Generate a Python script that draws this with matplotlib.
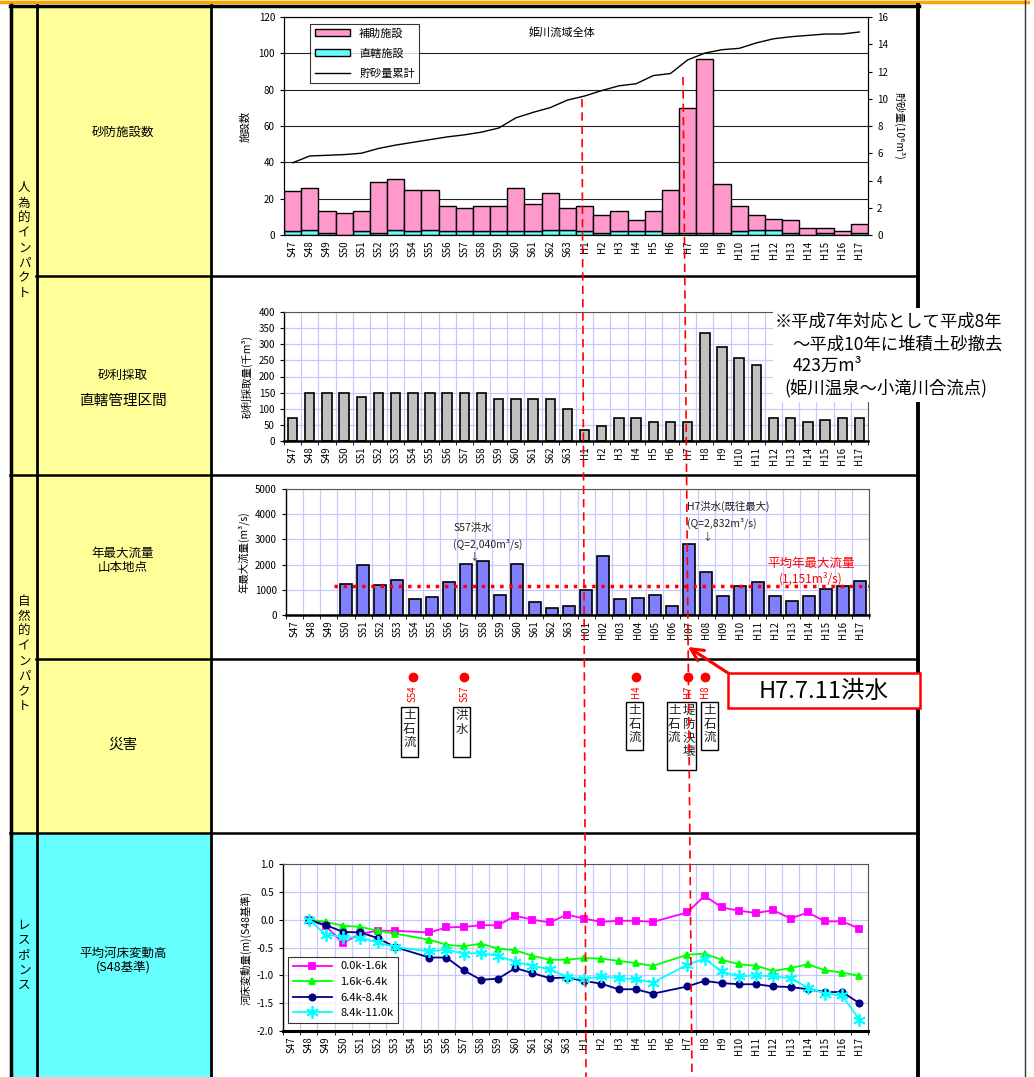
import numpy as np
import matplotlib
matplotlib.use('Agg')
import matplotlib.pyplot as plt
from matplotlib.patches import Rectangle, Patch
from matplotlib.lines import Line2D

plt.rcParams['font.family'] = ['Noto Sans CJK JP', 'DejaVu Sans']
plt.rcParams['axes.unicode_minus'] = False

W, H = 1034, 1077

# 年度（昭和・平成）
years = ['S47', 'S48', 'S49', 'S50', 'S51', 'S52', 'S53', 'S54', 'S55', 'S56',
         'S57', 'S58', 'S59', 'S60', 'S61', 'S62', 'S63',
         'H1', 'H2', 'H3', 'H4', 'H5', 'H6', 'H7', 'H8', 'H9', 'H10',
         'H11', 'H12', 'H13', 'H14', 'H15', 'H16', 'H17']
years_flow = ['S47', 'S48', 'S49', 'S50', 'S51', 'S52', 'S53', 'S54', 'S55', 'S56',
              'S57', 'S58', 'S59', 'S60', 'S61', 'S62', 'S63',
              'H01', 'H02', 'H03', 'H04', 'H05', 'H06', 'H07', 'H08', 'H09', 'H10',
              'H11', 'H12', 'H13', 'H14', 'H15', 'H16', 'H17']

# 砂防施設数（姫川流域全体）
sabo_hojo = [22, 23, 12, 12, 11, 28, 28, 23, 22, 14, 13, 14, 14, 24, 15, 20, 12,
             14, 10, 11, 6, 11, 24, 69, 96, 27, 14, 8, 6, 7, 4, 3, 2, 5]
sabo_chok = [2, 3, 1, 0, 2, 1, 3, 2, 3, 2, 2, 2, 2, 2, 2, 3, 3,
             2, 1, 2, 2, 2, 1, 1, 1, 1, 2, 3, 3, 1, 0, 1, 0, 1]
storage = [5.3, 5.8, 5.85, 5.9, 6.0, 6.35, 6.6, 6.8, 7.0, 7.2, 7.35, 7.55, 7.85, 8.6, 9.0, 9.35, 9.9,
           10.2, 10.6, 10.95, 11.1, 11.7, 11.85, 12.85, 13.35, 13.6, 13.7, 14.1, 14.4, 14.55,
           14.65, 14.75, 14.75, 14.9]

# 砂利採取量（千m3）
gravel = [70, 150, 150, 150, 137, 150, 150, 150, 150, 150, 150, 150, 130, 130, 130, 130, 100,
          35, 47, 70, 70, 60, 60, 60, 335, 292, 258, 237, 70, 70, 60, 65, 70, 70]

# 年最大流量（山本地点, m3/s）
nan = np.nan
flow = [nan, nan, nan, 1220, 1970, 1180, 1380, 640, 720, 1310, 2040, 2130, 800, 2010, 520, 290, 370,
        980, 2340, 650, 690, 810, 345, 2832, 1690, 745, 1170, 1290, 745, 572, 745, 1050, 1144, 1356]
flow_mean = 1151

# 災害
disaster_years = ['S54', 'S57', 'H4', 'H7', 'H8']
disaster_kinds = [['土石流'], ['洪水'], ['土石流'], ['土石流', '堤防決壊'], ['土石流']]

# 平均河床変動高（S48基準, m）
bed_labels = ['0.0k-1.6k', '1.6k-6.4k', '6.4k-8.4k', '8.4k-11.0k']
bed_00_16 = [nan, 0.0, -0.12, -0.42, -0.25, -0.2, -0.2, nan, -0.23, -0.14, -0.13, -0.1, -0.1, 0.07, 0.0, -0.05, 0.09,
             0.02, -0.04, -0.02, -0.02, -0.04, nan, 0.13, 0.43, 0.22, 0.16, 0.12, 0.17, 0.02, 0.13, -0.03, -0.03, -0.16]
bed_16_64 = [nan, 0.0, -0.04, -0.11, -0.13, -0.2, -0.25, nan, -0.36, -0.45, -0.48, -0.43, -0.52, -0.55, -0.65, -0.72, -0.72,
             -0.69, -0.7, -0.74, -0.78, -0.83, nan, -0.63, -0.61, -0.72, -0.8, -0.83, -0.92, -0.87, -0.8, -0.91, -0.95, -1.01]
bed_64_84 = [nan, 0.0, -0.1, -0.22, -0.23, -0.33, -0.49, nan, -0.68, -0.68, -0.91, -1.08, -1.06, -0.87, -0.96, -1.05, -1.04,
             -1.1, -1.15, -1.25, -1.25, -1.33, nan, -1.2, -1.1, -1.14, -1.16, -1.16, -1.2, -1.21, -1.25, -1.3, -1.3, -1.5]
bed_84_110 = [nan, 0.0, -0.27, -0.31, -0.33, -0.41, -0.49, nan, -0.57, -0.54, -0.61, -0.6, -0.65, -0.76, -0.83, -0.89, -1.03,
              -1.07, -1.02, -1.05, -1.07, -1.13, nan, -0.81, -0.7, -0.93, -1.02, -1.0, -1.02, -1.05, -1.22, -1.33, -1.36, -1.8]

YELLOW = '#ffff99'
CYAN = '#66ffff'
LAV = '#c8c8ff'

fig = plt.figure(figsize=(W / 100, H / 100), dpi=100)


def box(x0, y0, x1, y1):
    # ピクセル座標 -> figure座標
    return [x0 / W, 1 - y1 / H, (x1 - x0) / W, (y1 - y0) / H]


def cat_axis(ax, labels, minor_ticks=True):
    n = len(labels)
    ax.set_xlim(-0.5, n - 0.5)
    ax.set_xticks(np.arange(n))
    ax.set_xticklabels(labels, rotation=90, fontsize=7)
    ax.set_xticks(np.arange(n + 1) - 0.5, minor=True)
    ax.tick_params(axis='x', which='major', length=0, pad=4)
    ax.tick_params(axis='x', which='minor', length=3 if minor_ticks else 0)
    ax.tick_params(axis='y', labelsize=7, length=3)


def lav_frame(ax):
    ax.grid(True, which='minor', axis='x', color=LAV, lw=0.9)
    ax.grid(True, which='major', axis='y', color=LAV, lw=0.9)
    ax.set_axisbelow(True)
    ax.spines['top'].set_color('#555555')
    ax.spines['right'].set_color('#555555')
    ax.spines['left'].set_linewidth(1.0)
    ax.spines['bottom'].set_linewidth(1.8)


x = np.arange(len(years))

# ---- 表の枠 ----
bg = fig.add_axes([0, 0, 1, 1])
bg.set_xlim(0, W)
bg.set_ylim(H, 0)
bg.axis('off')

groups = [(6, 475, YELLOW, '人為的インパクト'),
          (475, 833, YELLOW, '自然的インパクト'),
          (833, H, CYAN, 'レスポンス')]
for y0, y1, c, t in groups:
    bg.add_patch(Rectangle((12, y0), 24, y1 - y0, color=c, lw=0))
    bg.text(24, (y0 + y1) / 2, '\n'.join(t), ha='center', va='center',
            fontsize=9, linespacing=1.2)

rows = [(6, 276, YELLOW), (276, 475, YELLOW), (475, 659, YELLOW), (659, 833, YELLOW), (833, H, CYAN)]
for y0, y1, c in rows:
    bg.add_patch(Rectangle((37, y0), 173, y1 - y0, color=c, lw=0))

bg.text(123, 132, '砂防施設数', ha='center', va='center', fontsize=9)
bg.text(123, 375, '砂利採取', ha='center', va='center', fontsize=9)
bg.text(123, 401, '直轄管理区間', ha='center', va='center', fontsize=10.5)
bg.text(123, 560, '年最大流量\n山本地点', ha='center', va='center', fontsize=9, linespacing=1.1)
bg.text(123, 745, '災害', ha='center', va='center', fontsize=10.5)
bg.text(123, 960, '平均河床変動高\n(S48基準)', ha='center', va='center', fontsize=9, linespacing=1.1)

bg.plot([0, 1028], [2, 2], color='#ffa500', lw=2.5)
bg.plot([11, 11], [5, H], color='black', lw=2.5)
bg.plot([36.5, 36.5], [5, H], color='black', lw=2)
bg.plot([211, 211], [5, H], color='black', lw=2)
bg.plot([918, 918], [5, H], color='black', lw=2.8)
bg.plot([1025, 1025], [0, H], color='#333333', lw=1)
bg.plot([10, 919], [6, 6], color='black', lw=2.5)
for yy, x0 in [(276, 36), (475, 10), (659, 36), (833, 10)]:
    bg.plot([x0, 918], [yy, yy], color='black', lw=1.8)

# ---- 砂防施設数 ----
ax1 = fig.add_axes(box(284, 17, 868, 235))
ax1.bar(x, sabo_chok, width=1.0, color=CYAN, edgecolor='black', lw=1.0)
ax1.bar(x, sabo_hojo, bottom=sabo_chok, width=1.0, color='#ff99cc', edgecolor='black', lw=1.0)
ax1.set_ylim(0, 120)
ax1.set_yticks(range(0, 121, 20))
ax1.yaxis.grid(True, color='#222222', lw=0.8)
ax1.set_axisbelow(True)
cat_axis(ax1, years, minor_ticks=False)
ax1.set_ylabel('施設数', fontsize=7.5, labelpad=6)

ax1r = ax1.twinx()
ax1r.plot(x, storage, color='black', lw=1.0)
ax1r.set_ylim(0, 16)
ax1r.set_yticks(range(0, 17, 2))
ax1r.tick_params(axis='y', labelsize=7, length=3)
ax1r.set_ylabel('貯砂量(10⁶m³)', fontsize=7.5, rotation=270, labelpad=12)
ax1r.text(0.476, 0.93, '姫川流域全体', transform=ax1r.transAxes, ha='center', va='center', fontsize=8)
handles = [Patch(facecolor='#ff99cc', edgecolor='black', label='補助施設'),
           Patch(facecolor=CYAN, edgecolor='black', label='直轄施設'),
           Line2D([], [], color='black', lw=1.0, label='貯砂量累計')]
leg = ax1r.legend(handles=handles, loc='upper left', bbox_to_anchor=(0.045, 0.968),
                  fontsize=8, frameon=True, fancybox=False, edgecolor='black',
                  borderaxespad=0, handlelength=3.2, handleheight=0.6, labelspacing=0.9)
leg.get_frame().set_linewidth(0.8)

# ---- 砂利採取量 ----
ax2 = fig.add_axes(box(284, 312, 868, 441))
ax2.bar(x, gravel, width=0.55, color='#c0c0c0', edgecolor='black', lw=1.2)
ax2.set_ylim(0, 400)
ax2.set_yticks(range(0, 401, 50))
cat_axis(ax2, years)
lav_frame(ax2)
ax2.set_ylabel('砂利採取量(千m³)', fontsize=7.5, labelpad=4)

# ---- 年最大流量 ----
ax3 = fig.add_axes(box(286, 489, 869, 615))
ax3.bar(x, flow, width=0.7, color='#8080ff', edgecolor='black', lw=1.2)
ax3.plot([2.3, len(years) - 0.5], [flow_mean, flow_mean], color='red', ls=':', lw=2.5)
ax3.set_ylim(0, 5000)
ax3.set_yticks(range(0, 5001, 1000))
cat_axis(ax3, years_flow)
lav_frame(ax3)
ax3.set_ylabel('年最大流量(m³/s)', fontsize=7.5, labelpad=4)
ax3.text(9.25, 3450, 'S57洪水', fontsize=7.5, va='center', color='#222222')
ax3.text(9.25, 2820, '(Q=2,040m³/s)', fontsize=7.5, va='center', color='#222222')
ax3.text(10.5, 2350, '↓', fontsize=7, ha='center', va='center', color='#222222')
ax3.text(22.9, 4290, 'H7洪水(既往最大)', fontsize=7.5, va='center', color='#222222')
ax3.text(22.9, 3650, '(Q=2,832m³/s)', fontsize=7.5, va='center', color='#222222')
ax3.text(24.05, 3150, '↓', fontsize=7, ha='center', va='center', color='#222222')
ax3.text(30.1, 2060, '平均年最大流量', fontsize=9, ha='center', va='center', color='red')
ax3.text(30.1, 1430, '(%sm³/s)' % format(flow_mean, ','), fontsize=8.5,
         ha='center', va='center', color='red')

# ---- 災害 ----
ax4 = fig.add_axes(box(284, 660, 868, 832))
ax4.set_xlim(-0.5, len(years) - 0.5)
ax4.set_ylim(832, 660)
ax4.axis('off')
box_shift = [-0.2, -0.17, -0.1, -0.36, 0.27]
box_top = [707, 707, 702, 702, 702]
box_bottom = [757, 757, 750, 770, 750]
for yr, kinds, dx, t0, t1 in zip(disaster_years, disaster_kinds, box_shift, box_top, box_bottom):
    i = years.index(yr)
    ax4.plot(i, 677, 'o', color='red', ms=6)
    ax4.text(i, 685, yr, rotation=90, ha='center', va='top', color='red', fontsize=7)
    ncol = len(kinds)
    bw = 1.0 if ncol == 1 else 1.7
    cx = i + dx
    ax4.add_patch(Rectangle((cx - bw / 2, t0), bw, t1 - t0, fill=False, edgecolor='black', lw=1.0))
    for k, kind in enumerate(kinds):
        tx = cx if ncol == 1 else cx - bw / 4 + k * bw / 2
        ax4.text(tx, t0 + 2, '\n'.join(kind), ha='center', va='top', fontsize=9,
                 linespacing=1.05, color='#222222')

# ---- 平均河床変動高 ----
ax5 = fig.add_axes(box(283, 864, 868, 1031))
styles = [('#ff00ff', 's', 4.5),
          ('#00ff00', '^', 5),
          ('#000080', 'o', 4.5),
          ('#00ffff', (6, 2, 0), 9)]
for vals, lab, (c, m, ms) in zip([bed_00_16, bed_16_64, bed_64_84, bed_84_110], bed_labels, styles):
    v = np.array(vals, dtype=float)
    ok = ~np.isnan(v)
    ax5.plot(x[ok], v[ok], color=c, marker=m, ms=ms, lw=1.3, mew=1.3, label=lab)
ax5.set_ylim(-2.0, 1.0)
ax5.set_yticks(np.arange(-2.0, 1.01, 0.5))
ax5.set_yticklabels(['%.1f' % t for t in np.arange(-2.0, 1.01, 0.5)])
cat_axis(ax5, years)
lav_frame(ax5)
ax5.spines['bottom'].set_linewidth(2.2)
ax5.set_ylabel('河床変動量(m)(S48基準)', fontsize=7.5, labelpad=4)
leg5 = ax5.legend(loc='upper left', bbox_to_anchor=(0.009, 0.443), borderaxespad=0,
                  fontsize=8, frameon=True, fancybox=False, edgecolor='black',
                  handlelength=3.5, labelspacing=0.5)
leg5.get_frame().set_linewidth(0.8)

# ---- 前面の注記 ----
ov = fig.add_axes([0, 0, 1, 1])
ov.set_xlim(0, W)
ov.set_ylim(H, 0)
ov.axis('off')
ov.patch.set_alpha(0)

ov.plot([582, 586], [99, H], color='red', ls=(0, (5, 3)), lw=1.2)
ov.plot([683, 692], [77, H], color='red', ls=(0, (5, 3)), lw=1.2)

ov.add_patch(Rectangle((773, 308), 248, 94, facecolor='white', edgecolor='none'))
ov.text(775, 322, '※平成7年対応として平成8年', fontsize=12.5, va='center')
ov.text(792, 345, '～平成10年に堆積土砂撤去', fontsize=12.5, va='center')
ov.text(793, 366, '423万m³', fontsize=12.5, va='center')
ov.text(784, 388, '(姫川温泉～小滝川合流点)', fontsize=12.5, va='center')

ov.add_patch(Rectangle((728, 673), 192, 35, facecolor='white', edgecolor='red', lw=1.8))
ov.text(824, 691, 'H7.7.11洪水', fontsize=17, ha='center', va='center')
ov.annotate('', xy=(688, 647), xytext=(728, 673),
            arrowprops=dict(arrowstyle='->', color='red', lw=2.2, mutation_scale=22,
                            shrinkA=0, shrinkB=0))

fig.savefig('out.png', dpi=100)
